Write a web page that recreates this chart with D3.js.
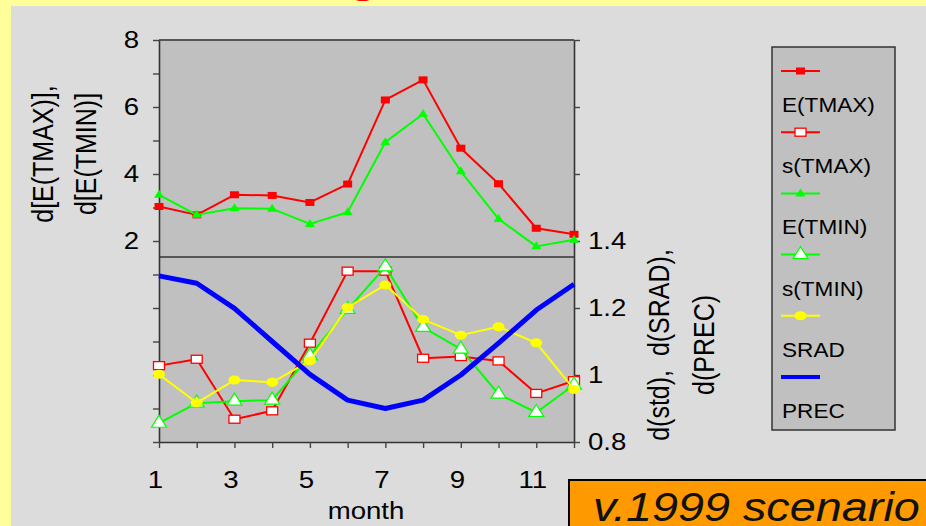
<!DOCTYPE html>
<html>
<head>
<meta charset="utf-8">
<script src="https://cdn.jsdelivr.net/npm/d3@7"></script>
<style>
  html, body { margin: 0; padding: 0; background: #FFFF99; }
  svg { display: block; }
  text { font-family: "Liberation Sans", Arial, sans-serif; fill: #000; }
</style>
</head>
<body>
<svg id="chart" width="926" height="526"></svg>
<script>
// ---- data ----
const months = [1, 2, 3, 4, 5, 6, 7, 8, 9, 10, 11, 12];
const monthTicks = [1, 3, 5, 7, 9, 11];

// upper panel (left axis)
const eTmax = [3.03, 2.78, 3.38, 3.36, 3.15, 3.70, 6.21, 6.81, 4.77, 3.71, 2.38, 2.20];
const eTmin = [3.38, 2.78, 2.98, 2.96, 2.51, 2.86, 4.95, 5.79, 4.08, 2.66, 1.84, 2.04];

// lower panel (right axis)
const sTmax = [1.028, 1.047, 0.868, 0.893, 1.095, 1.310, 1.310, 1.050, 1.055, 1.042, 0.945, 0.983];
const sTmin = [0.856, 0.916, 0.922, 0.925, 1.057, 1.196, 1.323, 1.142, 1.077, 0.943, 0.888, 0.970];
const srad  = [1.002, 0.917, 0.985, 0.978, 1.042, 1.202, 1.269, 1.166, 1.119, 1.144, 1.096, 0.957];
const prec  = [1.296, 1.274, 1.199, 1.100, 1.002, 0.925, 0.900, 0.925, 1.000, 1.095, 1.194, 1.271];

const leftTicks = [-4, -3, -2, -1, 0, 1, 2, 3, 4, 5, 6, 7, 8];
const leftLabels = [2, 4, 6, 8];
const rightTicks = [0.8, 1.0, 1.2, 1.4, 1.6, 1.8, 2.0];
const rightLabels = [0.8, 1.0, 1.2, 1.4];

const legendLabels = ["E(TMAX)", "s(TMAX)", "E(TMIN)", "s(TMIN)", "SRAD", "PREC"];

// ---- layout ----
const W = 926, H = 526;
const plot = { left: 159, right: 574, top: 40, bottom: 442 };
const dividerY = 257;
const SX = 1.15; // horizontal glyph stretch used for all text

const svg = d3.select("#chart");

// yellow slide background and grey chart panel
svg.append("rect").attr("width", W).attr("height", H).attr("fill", "#FFFF99");

// slide title descender peeking above the panel
svg.append("text")
  .attr("transform", `translate(348,-8) scale(${SX},1)`)
  .style("font-size", "44px").style("font-weight", "bold").style("fill", "#FF0000")
  .text("g");

svg.append("rect").attr("x", 11).attr("y", 6).attr("width", W - 11).attr("height", H - 6)
  .attr("fill", "#DCDCDC");

// scales
const x = d3.scaleLinear().domain([1, 12]).range([plot.left, plot.right]);
const yL = d3.scaleLinear().domain([-4, 8]).range([plot.bottom, plot.top]);
const yR = d3.scaleLinear().domain([0.8, 2.0]).range([plot.bottom, plot.top]);

// plot area
svg.append("rect")
  .attr("x", plot.left).attr("y", plot.top)
  .attr("width", plot.right - plot.left).attr("height", plot.bottom - plot.top)
  .attr("fill", "#C0C0C0");

// frame top and panel divider
svg.append("line").attr("x1", plot.left).attr("x2", plot.right)
  .attr("y1", plot.top).attr("y2", plot.top)
  .attr("stroke", "#555").attr("stroke-width", 2);
svg.append("line").attr("x1", plot.left).attr("x2", plot.right)
  .attr("y1", dividerY).attr("y2", dividerY)
  .attr("stroke", "#333").attr("stroke-width", 1.5);

function styleAxis(g) {
  g.select(".domain").attr("stroke", "#333").attr("stroke-width", 1.6);
  g.selectAll(".tick line").attr("stroke", "#444").attr("stroke-width", 1.4);
  g.selectAll(".tick text")
    .style("font-family", '"Liberation Sans", Arial, sans-serif')
    .style("font-size", "24px").attr("fill", "#000")
    .attr("transform", `scale(${SX},1)`);
}

// left axis
const gL = svg.append("g").attr("transform", `translate(${plot.left},0)`)
  .call(d3.axisLeft(yL).tickValues(leftTicks).tickSize(6).tickSizeOuter(0).tickPadding(11.4)
    .tickFormat(d => leftLabels.includes(d) ? d3.format("d")(d) : ""));
styleAxis(gL);

// right axis
const gR = svg.append("g").attr("transform", `translate(${plot.right},0)`)
  .call(d3.axisRight(yR).tickValues(rightTicks).tickSize(6).tickSizeOuter(0).tickPadding(6.2)
    .tickFormat(d => rightLabels.some(v => Math.abs(v - d) < 1e-9) ? d3.format("~g")(+d.toFixed(1)) : ""));
styleAxis(gR);

// bottom axis
const gB = svg.append("g").attr("transform", `translate(0,${plot.bottom})`)
  .call(d3.axisBottom(x).tickValues(months).tickSize(6).tickSizeOuter(0).tickPadding(23)
    .tickFormat(d => monthTicks.includes(d) ? String(d) : ""));
styleAxis(gB);
gB.selectAll(".tick text").attr("dx", -4 / SX);

// axis titles
svg.append("text")
  .attr("transform", `translate(366,519) scale(${SX},1)`)
  .attr("text-anchor", "middle").style("font-size", "24px").text("month");

const leftTitle = ["d[E(TMAX)],", "d[E(TMIN)]"];
const leftTitleX = [53, 96];
leftTitle.forEach((t, i) => {
  svg.append("text")
    .attr("transform", `translate(${leftTitleX[i]},154) scale(${SX},1) rotate(-90)`)
    .attr("text-anchor", "middle").style("font-size", "25px").text(t);
});

const rightTitle = ["d(std),  d(SRAD),", "d(PREC)"];
const rightTitleX = [669, 714];
rightTitle.forEach((t, i) => {
  svg.append("text")
    .attr("transform", `translate(${rightTitleX[i]},345) scale(${SX},1) rotate(-90)`)
    .attr("text-anchor", "middle").style("font-size", "25px").style("white-space", "pre").text(t);
});

// ---- series ----
const series = [
  { name: "E(TMAX)", values: eTmax, y: yL, color: "#FF0000", width: 2, marker: "squareFilled" },
  { name: "s(TMAX)", values: sTmax, y: yR, color: "#FF0000", width: 2, marker: "squareOpen" },
  { name: "E(TMIN)", values: eTmin, y: yL, color: "#00FF00", width: 2, marker: "triFilled" },
  { name: "s(TMIN)", values: sTmin, y: yR, color: "#00FF00", width: 2, marker: "triOpen" },
  { name: "SRAD", values: srad, y: yR, color: "#FFFF00", width: 2, marker: "circle" },
  { name: "PREC", values: prec, y: yR, color: "#0000FF", width: 5, marker: null }
];

function drawMarker(g, type, cx, cy, color) {
  if (type === "squareFilled") {
    g.append("rect").attr("x", cx - 4.5).attr("y", cy - 3.5).attr("width", 9).attr("height", 7)
      .attr("fill", color);
  } else if (type === "squareOpen") {
    g.append("rect").attr("x", cx - 5.5).attr("y", cy - 4).attr("width", 11).attr("height", 8)
      .attr("fill", "#fff").attr("stroke", color).attr("stroke-width", 1.3);
  } else if (type === "triFilled") {
    g.append("path").attr("d", `M${cx},${cy - 5}L${cx + 5},${cy + 3}L${cx - 5},${cy + 3}Z`)
      .attr("fill", color);
  } else if (type === "triOpen") {
    g.append("path").attr("d", `M${cx},${cy - 8}L${cx + 7.5},${cy + 4}L${cx - 7.5},${cy + 4}Z`)
      .attr("fill", "#fff").attr("stroke", color).attr("stroke-width", 1.2);
  } else if (type === "circle") {
    g.append("ellipse").attr("cx", cx).attr("cy", cy).attr("rx", 6).attr("ry", 4.5)
      .attr("fill", color);
  }
}

const marks = svg.append("g");
series.forEach(s => {
  const line = d3.line().x((d, i) => x(months[i])).y(d => s.y(d));
  marks.append("path").attr("d", line(s.values))
    .attr("fill", "none").attr("stroke", s.color).attr("stroke-width", s.width)
    .attr("stroke-linejoin", "round");
  if (s.marker) {
    const mg = marks.append("g");
    s.values.forEach((v, i) => drawMarker(mg, s.marker, x(months[i]), s.y(v), s.color));
  }
});

// ---- legend ----
const legend = svg.append("g");
legend.append("rect").attr("x", 772).attr("y", 47).attr("width", 123).attr("height", 383)
  .attr("fill", "#C0C0C0").attr("stroke", "#333").attr("stroke-width", 1.5);
series.forEach((s, i) => {
  const ly = 71 + i * 61.2;
  legend.append("line").attr("x1", 781).attr("x2", 820).attr("y1", ly).attr("y2", ly)
    .attr("stroke", s.color).attr("stroke-width", s.marker ? 2 : 4);
  if (s.marker) drawMarker(legend, s.marker, 800.5, ly, s.color);
  legend.append("text")
    .attr("transform", `translate(782,${ly + 41}) scale(1.13,1)`)
    .style("font-size", "20px").text(legendLabels[i]);
});

// ---- scenario tag ----
svg.append("rect").attr("x", 569).attr("y", 480).attr("width", 400).attr("height", 60)
  .attr("fill", "#FF9900").attr("stroke", "#000").attr("stroke-width", 2);
svg.append("text")
  .attr("transform", `translate(593,521) scale(1.17,1)`)
  .style("font-size", "40px").style("font-style", "italic").style("fill", "#111")
  .text("v.1999 scenario");
</script>
</body>
</html>
